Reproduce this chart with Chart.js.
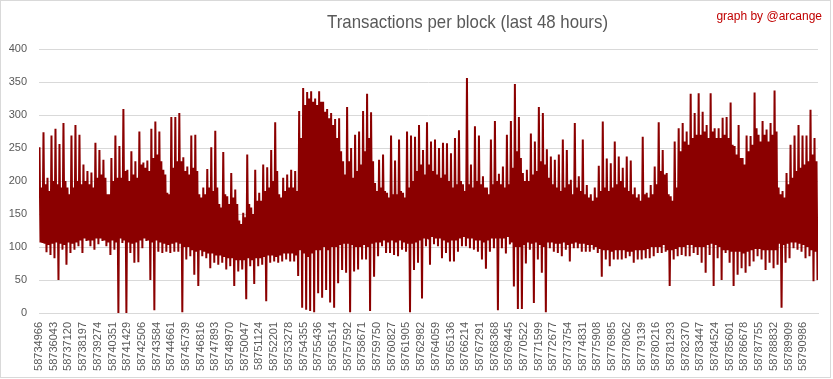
<!DOCTYPE html>
<html><head><meta charset="utf-8">
<script src="https://cdn.jsdelivr.net/npm/chart.js@4.4.1/dist/chart.umd.min.js"></script>
<style>html,body{margin:0;padding:0;background:#fff}#wrap{width:833px;height:379px}</style>
</head><body><div id="wrap"><canvas id="c" width="833" height="379"></canvas></div>
<script>
// Block number shown under every 1077th block
const tickLabels = [
  "58734966","58736043","58737120","58738197","58739274","58740351","58741429","58742506","58743584","58744661",
  "58745739","58746816","58747893","58748970","58750047","58751124","58752201","58753278","58754355","58755436",
  "58756514","58757592","58758671","58759750","58760827","58761905","58762982","58764059","58765136","58766214",
  "58767291","58768368","58769445","58770522","58771599","58772677","58773754","58774831","58775908","58776985",
  "58778062","58779139","58780216","58781293","58782370","58783447","58784524","58785601","58786678","58787755",
  "58788832","58789909","58790986"
];
const labelInterval = 1077;   // blocks between two labels
const blockCount = 57090;     // blocks in the last 48 hours (approx.)

// Highest transactions per block within each successive slice of blocks
const sliceMax = [
  251,274,205,269,279,256,288,190,269,285,
  270,225,215,213,258,247,232,180,235,269,
  253,309,217,245,230,275,228,231,279,290,
  275,217,182,297,297,303,236,222,269,270,
  180,190,218,251,276,165,244,177,212,187,
  140,152,240,160,217,182,225,221,247,289,
  180,205,210,217,215,306,341,335,336,325,
  336,320,309,303,294,295,230,312,250,270,
  275,306,332,304,197,232,240,182,269,231,
  263,182,275,269,267,285,247,289,260,263,
  250,258,257,242,265,277,195,356,225,283,
  269,207,190,263,291,211,222,270,291,347,
  297,212,217,272,260,312,303,248,237,232,
  240,263,247,202,288,207,263,194,180,190,
  223,290,234,227,260,237,220,237,231,190,
  180,267,182,194,222,289,247,212,177,260,
  280,288,275,332,303,333,305,285,333,280,
  280,296,297,319,253,285,235,269,268,334,
  270,291,278,288,337,190,185,212,255,269,
  285,269,269,308,265
];
// Upper edge of the dense core of each slice
const sliceUpper = [
  190,195,185,200,195, 190,200,180,190,200,
  195,200,195,190,205, 210,205,180,200,205,
  205,215,200,210,205, 225,220,215,235,240,
  230,210,180,220,230, 230,215,210,220,215,
  175,180,190,185,190, 160,180,165,175,165,
  135,145,165,150,170, 170,185,190,200,215,
  175,185,190,190,185, 265,315,325,320,315,
  320,305,295,285,265, 245,210,230,205,215,
  225,245,265,230,185, 190,185,175,180,180,
  185,175,190,200,215, 225,210,225,215,210,
  205,210,200,190,195, 200,185,195,190,200,
  195,190,180,195,200, 195,190,195,220,245,
  235,200,200,210,215, 230,225,205,195,190,
  185,190,195,180,190, 185,180,175,170,175,
  185,190,185,190,195, 200,190,185,180,175,
  170,180,175,180,195, 215,210,180,170,190,
  245,260,255,265,270, 270,275,265,275,265,
  265,270,265,255,240, 235,225,245,255,280,
  260,270,260,270,275, 180,175,195,205,215,
  220,225,230,240,230
];
// Lower edge of the dense core of each slice
const sliceLower = [
  107,105,103,105,107, 105,103,107,105,107,
  110,113,110,110,113, 113,110,107,110,107,
  113,110,107,105,107, 110,113,110,107,110,
  107,105,103,105,107, 105,100,100,95,93,
  95,93,90,90,87, 87,85,83,83,80,
  80,80,83,80,83, 83,85,87,87,85,
  87,90,90,90,87, 95,90,85,90,95,
  95,100,95,100,100, 103,105,105,103,100,
  100,103,100,105,107, 107,110,107,110,107,
  110,107,105,105,107, 110,113,113,115,113,
  113,110,107,110,110, 113,115,113,113,110,
  110,107,110,113,113, 113,113,115,107,100,
  100,103,107,105,107, 103,100,107,107,105,
  105,107,103,105,107, 105,105,103,103,100,
  97,95,95,93,95, 95,95,93,93,95,
  95,95,97,100,100, 100,103,95,95,97,
  100,100,103,103,100, 100,100,103,105,103,
  100,95,95,93,93, 93,90,93,95,97,
  97,95,95,95,95, 105,103,105,107,107,
  105,103,100,95,93
];
// Lowest transactions per block within the same slices
const sliceMin = [
  106,92,88,83,50,96,73,91,96,101,
  91,109,101,96,104,109,101,88,96,0,
  106,0,91,76,77,98,109,50,4,93,
  91,93,91,93,93,1,81,86,58,41,
  86,83,68,76,73,76,66,71,41,63,
  66,21,71,44,71,73,18,76,78,76,
  78,81,78,78,56,8,5,3,1,30,
  23,35,16,8,45,65,61,1,63,66,
  81,81,3,55,86,101,91,91,88,86,
  96,93,1,65,76,22,101,73,104,101,
  83,91,78,78,93,101,101,98,96,93,
  81,67,93,98,4,98,90,104,40,6,
  6,75,96,15,81,61,1,98,93,91,
  86,96,78,98,98,93,93,93,96,91,
  55,81,71,81,81,81,83,86,76,81,
  81,83,83,86,91,91,93,41,81,86,
  88,86,86,91,88,76,61,88,41,83,
  50,91,76,41,58,68,61,71,78,86,
  81,65,76,68,73,8,76,83,98,96,
  93,83,86,48,50
];

const sliceSize = blockCount / sliceMax.length;
const points = [];
sliceMax.forEach((hi, k) => {
  const seq = [hi, sliceLower[k], sliceUpper[k], sliceMin[k]];
  seq.forEach((v, j) => points.push({x: (k + (j + 0.5) / seq.length) * sliceSize, y: v}));
});

const decor = {
  id: 'decor',
  beforeDraw(chart) {
    const ctx = chart.ctx;
    ctx.save();
    ctx.fillStyle = '#ffffff';
    ctx.fillRect(0, 0, chart.width, chart.height);
    ctx.restore();
  },
  afterDraw(chart) {
    const ctx = chart.ctx;
    ctx.save();
    ctx.strokeStyle = '#d9d9d9';
    ctx.lineWidth = 1;
    ctx.strokeRect(0.5, 0.5, 830, 377);
    // main title
    const title = 'Transactions per block (last 48 hours)';
    ctx.font = '19px "Liberation Sans Narrow", "Liberation Sans", sans-serif';
    ctx.fillStyle = '#595959';
    ctx.textBaseline = 'alphabetic';
    const w = ctx.measureText(title).width;
    ctx.save();
    ctx.translate(327, 28);
    ctx.scale(281 / w, 1);
    ctx.fillText(title, 0, 0);
    ctx.restore();
    // credit
    ctx.font = '12px "Liberation Sans", sans-serif';
    ctx.fillStyle = '#c00000';
    ctx.textAlign = 'right';
    ctx.fillText('graph by @arcange', 822, 20);
    ctx.restore();
  }
};

new Chart(document.getElementById('c'), {
  type: 'line',
  data: {
    datasets: [{
      data: points,
      borderColor: '#8b0000',
      borderWidth: 2,
      borderJoinStyle: 'bevel',
      pointRadius: 0,
      tension: 0,
      fill: false
    }]
  },
  options: {
    responsive: false,
    animation: false,
    layout: {padding: {top: 49, right: 15, left: 0, bottom: 0}},
    plugins: {legend: {display: false}, tooltip: {enabled: false}, title: {display: false}},
    scales: {
      x: {
        type: 'linear',
        min: 0,
        max: blockCount,
        afterBuildTicks: (axis) => {
          axis.ticks = tickLabels.map((_, i) => ({value: i * labelInterval}));
        },
        afterFit: (axis) => { axis.height = 66; },
        ticks: {
          autoSkip: false,
          minRotation: 90,
          maxRotation: 90,
          padding: 9,
          color: '#595959',
          font: {family: '"Liberation Sans", sans-serif', size: 11},
          callback: (v, i) => tickLabels[i]
        },
        grid: {display: false, drawTicks: false},
        border: {display: true, color: '#d9d9d9', width: 1}
      },
      y: {
        min: 0,
        max: 400,
        afterFit: (axis) => { axis.width = 39; },
        ticks: {
          stepSize: 50,
          padding: 12,
          color: '#595959',
          font: {family: '"Liberation Sans", sans-serif', size: 11}
        },
        grid: {color: '#d9d9d9', drawTicks: false},
        border: {display: false}
      }
    }
  },
  plugins: [decor]
});
</script>
</body></html>
